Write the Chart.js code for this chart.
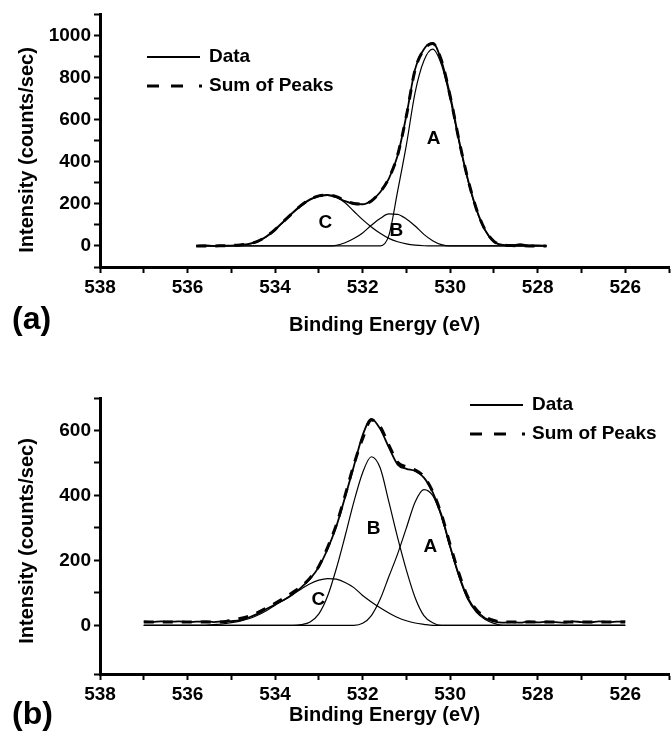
<!DOCTYPE html>
<html>
<head>
<meta charset="utf-8">
<title>O 1s spectra</title>
<script src="https://cdn.jsdelivr.net/npm/chart.js@4.4.1/dist/chart.umd.min.js"></script>
<style>
    body { margin: 0; background: #fff; }
    #wrap { position: relative; width: 672px; height: 744px; }
    .panel { position: absolute; left: 0; width: 672px; height: 372px; }
    .tag { position: absolute; left: 12px; font: bold 32px "Liberation Sans", Arial, sans-serif; color: #000; }
</style>
</head>
<body>
<div id="wrap">
    <div class="panel" style="top:0"><canvas id="chartA" width="672" height="372"></canvas></div>
    <div class="panel" style="top:372px"><canvas id="chartB" width="672" height="372"></canvas></div>
    <div class="tag" style="top:300px">(a)</div>
    <div class="tag" style="top:695px">(b)</div>
</div>
<script>
// Two fitted O 1s spectra

// ---- panel (a) ----
const energyA = [535.8, 535.6, 535.4, 535.2, 535.0, 534.8, 534.6, 534.4, 534.2, 534.0,
    533.8, 533.6, 533.4, 533.2, 533.0, 532.8, 532.6, 532.4, 532.2, 532.0,
    531.8, 531.6, 531.4, 531.2, 531.0, 530.8, 530.6, 530.4, 530.2, 530.0,
    529.8, 529.6, 529.4, 529.2, 529.0, 528.8, 528.6, 528.4, 528.2, 528.0, 527.8];
const dataA = [0, 3, 0, 2, 2, 5, 10, 22, 45, 78,
    118, 158, 195, 222, 238, 242, 232, 213, 200, 198,
    215, 255, 320, 430, 620, 840, 935, 965, 880, 715,
    505, 320, 175, 75, 22, 5, 3, 8, 2, 3, 0];
const sumA = [0, 0, 0, 1, 2, 5, 10, 22, 45, 78,
    118, 157, 194, 221, 238, 242, 234, 215, 202, 199,
    214, 256, 322, 432, 618, 838, 932, 962, 882, 712,
    505, 322, 176, 76, 22, 6, 2, 1, 0, 0, 0];
const peakA_A = [0, 0, 0, 0, 0, 0, 0, 0, 0, 0,
    0, 0, 0, 0, 0, 0, 0, 0, 0, 0,
    0, 0, 50, 260, 480, 730, 880, 935, 862, 700,
    495, 315, 170, 72, 18, 2, 0, 0, 0, 0, 0];
const peakA_B = [0, 0, 0, 0, 0, 0, 0, 0, 0, 0,
    0, 0, 0, 0, 0, 0, 3, 15, 35, 62,
    98, 130, 152, 150, 128, 95, 55, 25, 6, 0,
    0, 0, 0, 0, 0, 0, 0, 0, 0, 0, 0];
const peakA_C = [0, 0, 0, 0, 1, 3, 8, 20, 42, 75,
    115, 155, 190, 218, 235, 240, 232, 205, 165, 125,
    90, 60, 36, 20, 10, 4, 1, 0, 0, 0,
    0, 0, 0, 0, 0, 0, 0, 0, 0, 0, 0];

// ---- panel (b) ----
const energyB = [537.0, 536.8, 536.6, 536.4, 536.2, 536.0, 535.8, 535.6, 535.4, 535.2,
    535.0, 534.8, 534.6, 534.4, 534.2, 534.0, 533.8, 533.6, 533.4, 533.2,
    533.0, 532.8, 532.6, 532.4, 532.2, 532.0, 531.8, 531.6, 531.4, 531.2,
    531.0, 530.8, 530.6, 530.4, 530.2, 530.0, 529.8, 529.6, 529.4, 529.2,
    529.0, 528.8, 528.6, 528.4, 528.2, 528.0, 527.8, 527.6, 527.4, 527.2,
    527.0, 526.8, 526.6, 526.4, 526.2, 526.0];
const dataB = [12, 10, 12, 11, 12, 10, 11, 12, 10, 12,
    13, 15, 24, 35, 50, 64, 78, 95, 117, 143,
    180, 235, 305, 395, 490, 585, 636, 605, 548, 495,
    482, 475, 455, 410, 340, 243, 155, 85, 45, 22,
    12, 8, 10, 8, 12, 9, 11, 10, 8, 12,
    10, 9, 12, 10, 11, 12];
const sumB = [10, 10, 10, 10, 10, 10, 10, 10, 10, 10,
    16, 21, 28, 39, 53, 68, 84, 101, 120, 146,
    182, 240, 310, 400, 495, 575, 632, 612, 555, 502,
    488, 478, 458, 412, 342, 248, 160, 88, 48, 26,
    15, 10, 10, 10, 10, 10, 10, 10, 10, 10,
    10, 10, 10, 10, 10, 10];
const peakB_A = [0, 0, 0, 0, 0, 0, 0, 0, 0, 0,
    0, 0, 0, 0, 0, 0, 0, 0, 0, 0,
    0, 0, 0, 0, 0, 6, 30, 80, 150, 220,
    300, 380, 418, 400, 335, 240, 150, 80, 40, 18,
    6, 0, 0, 0, 0, 0, 0, 0, 0, 0,
    0, 0, 0, 0, 0, 0];
const peakB_B = [0, 0, 0, 0, 0, 0, 0, 0, 0, 0,
    0, 0, 0, 0, 0, 0, 0, 0, 2, 10,
    35, 90, 175, 275, 380, 470, 519, 485, 380, 270,
    170, 85, 30, 8, 0, 0, 0, 0, 0, 0,
    0, 0, 0, 0, 0, 0, 0, 0, 0, 0,
    0, 0, 0, 0, 0, 0];
const peakB_C = [0, 0, 0, 0, 0, 0, 0, 0, 2, 4,
    8, 13, 20, 31, 45, 62, 78, 95, 112, 128,
    139, 144, 142, 132, 116, 92, 72, 54, 38, 24,
    14, 7, 3, 0, 0, 0, 0, 0, 0, 0,
    0, 0, 0, 0, 0, 0, 0, 0, 0, 0,
    0, 0, 0, 0, 0, 0];

// Tick labels
const xTickLabels = [538, 536, 534, 532, 530, 528, 526];
const yTickLabelsA = [0, 200, 400, 600, 800, 1000];
const yTickLabelsB = [0, 200, 400, 600];

// Peak letters and where they sit (eV, counts/sec)
const peakNames = ['A', 'B', 'C'];
const tagSpotsA = [[530.38, 507], [531.23, 73], [532.85, 110]];
const tagSpotsB = [[530.45, 242], [531.75, 298], [533.01, 78]];

const FONT = '"Liberation Sans", Arial, Helvetica, sans-serif';
Chart.defaults.font.family = FONT;
Chart.defaults.color = '#000';

function toPoints(xs, ys) {
    return xs.map((x, i) => ({ x: x, y: ys[i] }));
}

// One curve: measured data, sum of peaks, or a fitted component
function curve(label, xs, ys, kind) {
    const ds = {
        label: label,
        data: toPoints(xs, ys),
        borderColor: '#000',
        pointRadius: 0,
        fill: false,
        cubicInterpolationMode: 'monotone'
    };
    if (kind === 'sum') {
        ds.borderWidth = 3;
        ds.borderDash = [10, 9];
        ds.order = 0;
    } else if (kind === 'data') {
        ds.borderWidth = 1.8;
        ds.order = 1;
    } else {
        ds.borderWidth = 1.2;
        ds.order = 2;
    }
    return ds;
}

// Letters A/B/C over the fitted peaks
const peakTags = {
    id: 'peakTags',
    afterDatasetsDraw(chart, args, opts) {
        const { ctx, scales } = chart;
        ctx.save();
        ctx.font = 'bold 19px ' + FONT;
        ctx.fillStyle = '#000';
        ctx.textAlign = 'center';
        ctx.textBaseline = 'middle';
        opts.names.forEach((name, i) => {
            const spot = opts.spots[i];
            ctx.fillText(name, scales.x.getPixelForValue(spot[0]), scales.y.getPixelForValue(spot[1]));
        });
        ctx.restore();
    }
};

// Small hand-placed key, as in the original figure
const keyBox = {
    id: 'keyBox',
    afterDraw(chart, args, opts) {
        const ctx = chart.ctx;
        const x0 = opts.left;
        const y1 = opts.top;
        const y2 = opts.top + 29;
        const labels = chart.data.datasets.map(d => d.label);
        ctx.save();
        ctx.strokeStyle = '#000';
        ctx.lineWidth = 1.8;
        ctx.beginPath();
        ctx.moveTo(x0, y1);
        ctx.lineTo(x0 + 53, y1);
        ctx.stroke();
        ctx.lineWidth = 3;
        [[0, 12], [24, 36], [52, 55]].forEach(seg => {
            ctx.beginPath();
            ctx.moveTo(x0 + seg[0], y2);
            ctx.lineTo(x0 + seg[1], y2);
            ctx.stroke();
        });
        ctx.font = 'bold 19px ' + FONT;
        ctx.fillStyle = '#000';
        ctx.textBaseline = 'middle';
        ctx.fillText(labels[1], x0 + 62, y1);
        ctx.fillText(labels[0], x0 + 62, y2);
        ctx.restore();
    }
};

// Rotated y title (placed by hand, it is not centred on the axis in panel a)
const sideTitle = {
    id: 'sideTitle',
    afterDraw(chart, args, opts) {
        const ctx = chart.ctx;
        ctx.save();
        ctx.translate(opts.x, opts.y);
        ctx.rotate(-Math.PI / 2);
        ctx.font = 'bold 20px ' + FONT;
        ctx.fillStyle = '#000';
        ctx.textAlign = 'center';
        ctx.textBaseline = 'middle';
        ctx.fillText(opts.text, 0, 0);
        ctx.restore();
    }
};

function axisLines() {
    return {
        grid: { drawOnChartArea: false, drawTicks: true, tickLength: 6, tickWidth: 2, tickColor: '#000' },
        border: { display: true, color: '#000', width: 3 }
    };
}

function makeSpectrum(canvasId, cfg) {
    const xAxis = Object.assign(axisLines(), {
        type: 'linear',
        reverse: true,
        min: 525,
        max: 538,
        ticks: {
            stepSize: 1,
            autoSkip: false,
            maxRotation: 0,
            maxTicksLimit: 20,
            padding: 3,
            font: { size: 19, weight: 'bold' },
            callback: v => xTickLabels.includes(v) ? String(v) : ''
        },
        title: {
            display: true,
            text: 'Binding Energy (eV)',
            font: { size: 20, weight: 'bold' },
            padding: 0
        },
        afterFit: s => { s.height = cfg.xHeight; }
    });
    const yAxis = Object.assign(axisLines(), {
        min: cfg.yMin,
        max: cfg.yMax,
        ticks: {
            stepSize: 100,
            autoSkip: false,
            maxTicksLimit: 20,
            padding: 3,
            font: { size: 19, weight: 'bold' },
            callback: v => cfg.yLabels.includes(v) ? String(v) : ''
        },
        afterFit: s => { s.width = 85; }
    });

    return new Chart(document.getElementById(canvasId), {
        type: 'line',
        data: { datasets: cfg.datasets },
        options: {
            responsive: false,
            animation: false,
            layout: { padding: cfg.padding },
            plugins: {
                legend: { display: false },
                tooltip: { enabled: false },
                peakTags: { names: peakNames, spots: cfg.spots },
                keyBox: cfg.key,
                sideTitle: { text: 'Intensity (counts/sec)', x: 27, y: cfg.yTitleAt }
            },
            scales: { x: xAxis, y: yAxis }
        },
        plugins: [peakTags, keyBox, sideTitle]
    });
}

makeSpectrum('chartA', {
    datasets: [
        curve('Sum of Peaks', energyA, sumA, 'sum'),
        curve('Data', energyA, dataA, 'data'),
        curve('A', energyA, peakA_A, 'peak'),
        curve('B', energyA, peakA_B, 'peak'),
        curve('C', energyA, peakA_C, 'peak')
    ],
    yMin: -100,
    yMax: 1100,
    yLabels: yTickLabelsA,
    spots: tagSpotsA,
    padding: { left: 15, right: 2, top: 5, bottom: 35 },
    xHeight: 70,
    key: { left: 147, top: 57 },
    yTitleAt: 150
});

makeSpectrum('chartB', {
    datasets: [
        curve('Sum of Peaks', energyB, sumB, 'sum'),
        curve('Data', energyB, dataB, 'data'),
        curve('A', energyB, peakB_A, 'peak'),
        curve('B', energyB, peakB_B, 'peak'),
        curve('C', energyB, peakB_C, 'peak')
    ],
    yMin: -150,
    yMax: 700,
    yLabels: yTickLabelsB,
    spots: tagSpotsB,
    padding: { left: 15, right: 2, top: 26, bottom: 17 },
    xHeight: 53,
    key: { left: 470, top: 33 },
    yTitleAt: 169
});
</script>
</body>
</html>
